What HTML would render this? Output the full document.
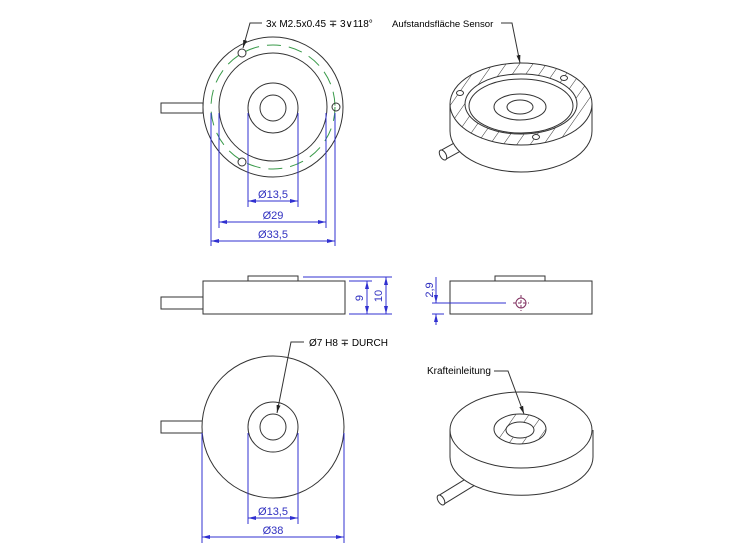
<!DOCTYPE html>
<html><head><meta charset="utf-8"><style>
html,body{margin:0;padding:0;background:#fff}
svg{display:block}
text{font-family:"Liberation Sans",sans-serif;font-size:10px}
.k{stroke:#333;fill:none;stroke-width:1}
.b{stroke:#3030d0;fill:none;stroke-width:1}
.bt{fill:#3030c0;font-size:11px}
</style></head><body>
<svg width="752" height="550" viewBox="0 0 752 550">
<defs>
<marker id="a" markerWidth="8" markerHeight="6" refX="8" refY="3" orient="auto-start-reverse" markerUnits="userSpaceOnUse"><path d="M0,1 L8,3 L0,5z" fill="#3030d0"/></marker>
<marker id="ak" markerWidth="8" markerHeight="6" refX="8" refY="3" orient="auto" markerUnits="userSpaceOnUse"><path d="M0,1 L8,3 L0,5z" fill="#222"/></marker>
<pattern id="h" width="11" height="11" patternUnits="userSpaceOnUse" patternTransform="rotate(35)"><rect width="11" height="11" fill="#fff"/><line x1="0" y1="0" x2="0" y2="11" stroke="#333" stroke-width="1"/></pattern>
</defs>

<!-- top view -->
<rect class="k" x="161" y="103" width="42" height="10"/>
<circle cx="273" cy="107" r="70" fill="#fff" stroke="#333"/>
<circle class="k" cx="273" cy="107" r="54"/>
<circle cx="273" cy="107" r="62" fill="none" stroke="#3a9a4a" stroke-dasharray="14,8"/>
<circle class="k" cx="273" cy="108" r="25"/>
<circle class="k" cx="273" cy="108" r="13"/>
<circle class="k" cx="242" cy="53" r="4"/>
<circle class="k" cx="336" cy="107" r="4"/>
<circle class="k" cx="242" cy="162" r="4"/>
<path class="k" d="M262,23 H250 L243,48" marker-end="url(#ak)"/>
<text x="266" y="27">3x M2.5x0.45 ∓ 3∨118°</text>
<g class="b">
<line x1="248" y1="113" x2="248" y2="207"/><line x1="298" y1="113" x2="298" y2="207"/>
<line x1="219" y1="113" x2="219" y2="228"/><line x1="326" y1="113" x2="326" y2="228"/>
<line x1="211" y1="113" x2="211" y2="246"/><line x1="335" y1="113" x2="335" y2="246"/>
<line x1="248" y1="201" x2="298" y2="201" marker-start="url(#a)" marker-end="url(#a)"/>
<line x1="219" y1="222" x2="326" y2="222" marker-start="url(#a)" marker-end="url(#a)"/>
<line x1="211" y1="241" x2="335" y2="241" marker-start="url(#a)" marker-end="url(#a)"/>
</g>
<text class="bt" x="273" y="198" text-anchor="middle">Ø13,5</text>
<text class="bt" x="273" y="219" text-anchor="middle">Ø29</text>
<text class="bt" x="273" y="238" text-anchor="middle">Ø33,5</text>

<!-- iso top -->
<path d="M443,155 L472,139" stroke="#333" stroke-width="11"/>
<path d="M443,155 L472,139" stroke="#fff" stroke-width="9"/>
<ellipse cx="443" cy="155" rx="3" ry="5.5" transform="rotate(-29 443 155)" fill="#fff" stroke="#333"/>
<path d="M450,104 V131 A71,41 0 0 0 592,131 V104" fill="#fff" stroke="#333"/>
<ellipse cx="521" cy="104" rx="71" ry="41" fill="url(#h)" stroke="#333"/>
<ellipse cx="521" cy="104" rx="56" ry="30" fill="#fff" stroke="#333"/>
<ellipse cx="521" cy="106" rx="52" ry="27" class="k"/>
<ellipse cx="520" cy="107" rx="26" ry="13" class="k"/>
<ellipse cx="520" cy="107" rx="13" ry="7" class="k"/>
<ellipse cx="460" cy="93" rx="3.5" ry="2.5" fill="#fff" stroke="#333"/>
<ellipse cx="564" cy="78" rx="3.5" ry="2.5" fill="#fff" stroke="#333"/>
<ellipse cx="536" cy="137" rx="3.5" ry="2.5" fill="#fff" stroke="#333"/>
<text x="392" y="27" style="font-size:9.6px">Aufstandsfläche Sensor</text>
<path class="k" d="M501,23 H512 L520,63" marker-end="url(#ak)"/>

<!-- side view -->
<rect class="k" x="161" y="297" width="42" height="12"/>
<rect class="k" x="203" y="281" width="142" height="33" fill="#fff"/>
<rect class="k" x="248" y="276" width="50" height="5"/>
<g class="b">
<line x1="303" y1="277" x2="392" y2="277"/>
<line x1="349" y1="281" x2="372" y2="281"/>
<line x1="349" y1="314" x2="392" y2="314"/>
<line x1="367" y1="281" x2="367" y2="314" marker-start="url(#a)" marker-end="url(#a)"/>
<line x1="386" y1="277" x2="386" y2="314" marker-start="url(#a)" marker-end="url(#a)"/>
</g>
<text class="bt" transform="translate(363,298) rotate(-90)" text-anchor="middle">9</text>
<text class="bt" transform="translate(382,296) rotate(-90)" text-anchor="middle">10</text>

<rect class="k" x="450" y="281" width="142" height="33"/>
<rect class="k" x="495" y="276" width="50" height="5"/>
<g class="b">
<line x1="432" y1="303" x2="506" y2="303"/>
<line x1="432" y1="314" x2="444" y2="314"/>
<line x1="436" y1="277" x2="436" y2="303" marker-end="url(#a)"/>
<line x1="436" y1="325" x2="436" y2="314" marker-end="url(#a)"/>
</g>
<text class="bt" transform="translate(433,290) rotate(-90)" text-anchor="middle">2,9</text>
<circle cx="521" cy="303" r="5" fill="none" stroke="#803060"/>
<path d="M513,303 H529 M521,295 V311" stroke="#803060" stroke-dasharray="3,2"/>

<!-- bottom view -->
<rect class="k" x="161" y="421" width="42" height="12"/>
<circle cx="273" cy="427" r="71" fill="#fff" stroke="#333"/>
<circle class="k" cx="273" cy="427" r="25"/>
<circle class="k" cx="273" cy="427" r="13"/>
<path class="k" d="M304,342 H291 L277,413" marker-end="url(#ak)"/>
<text x="309" y="346">Ø7 H8 ∓ DURCH</text>
<g class="b">
<line x1="248" y1="433" x2="248" y2="524"/><line x1="298" y1="433" x2="298" y2="524"/>
<line x1="202" y1="433" x2="202" y2="543"/><line x1="344" y1="433" x2="344" y2="543"/>
<line x1="248" y1="518" x2="298" y2="518" marker-start="url(#a)" marker-end="url(#a)"/>
<line x1="202" y1="537" x2="344" y2="537" marker-start="url(#a)" marker-end="url(#a)"/>
</g>
<text class="bt" x="273" y="515" text-anchor="middle">Ø13,5</text>
<text class="bt" x="273" y="534" text-anchor="middle">Ø38</text>

<!-- iso bottom -->
<path d="M441,500 L472,481" stroke="#333" stroke-width="11"/>
<path d="M441,500 L472,481" stroke="#fff" stroke-width="9"/>
<ellipse cx="441" cy="500" rx="3" ry="5.5" transform="rotate(-31 441 500)" fill="#fff" stroke="#333"/>
<path d="M450,430 V457 A71,38 0 0 0 593,457 V430" fill="#fff" stroke="#333"/>
<ellipse cx="521" cy="430" rx="71" ry="38" fill="#fff" stroke="#333"/>
<ellipse cx="520" cy="429" rx="26" ry="15" fill="url(#h)" stroke="#333"/>
<ellipse cx="520" cy="430" rx="14" ry="8" fill="#fff" stroke="#333"/>
<text x="427" y="374">Krafteinleitung</text>
<path class="k" d="M494,371 H508 L524,414" marker-end="url(#ak)"/>
</svg>
</body></html>
